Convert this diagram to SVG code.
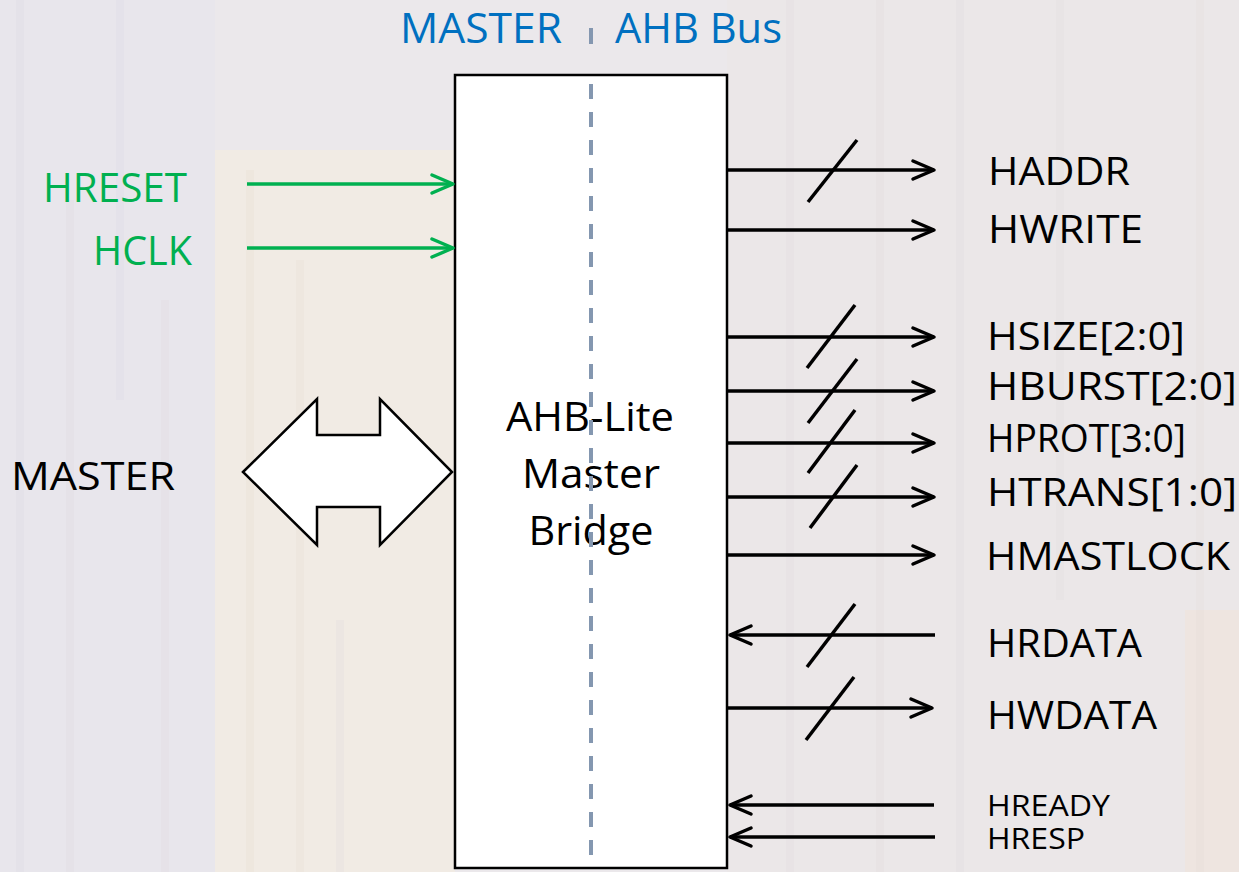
<svg xmlns="http://www.w3.org/2000/svg" width="1239" height="872" viewBox="0 0 1239 872">
  <style>
    .lbl { font-family: "Open Sans", "Liberation Sans", sans-serif; }
    .blue { fill: #0070C0; font-size: 42px; }
    .green { fill: #00B050; font-size: 40.5px; }
    .blk { fill: #000000; font-size: 39px; }
    .ctr { fill: #000000; font-size: 40.5px; text-anchor: middle; }
    .small { fill: #000000; font-size: 30px; }
    .wire { stroke: #000000; stroke-width: 3.5; fill: none; }
    .gwire { stroke: #00B050; stroke-width: 3.5; fill: none; }
    .slash { stroke: #000000; stroke-width: 3.5; stroke-linecap: butt; }
  </style>
  <defs>
    <marker id="arrBlack" markerUnits="userSpaceOnUse" markerWidth="30" markerHeight="24" viewBox="-24 -12 28 24" refX="0" refY="0" orient="auto">
      <path d="M -21 -9 L 0 0 L -21 9" fill="none" stroke="#000000" stroke-width="3.5" stroke-linecap="round" stroke-linejoin="round"/>
    </marker>
    <marker id="arrGreen" markerUnits="userSpaceOnUse" markerWidth="30" markerHeight="24" viewBox="-24 -12 28 24" refX="0" refY="0" orient="auto">
      <path d="M -21 -9 L 0 0 L -21 9" fill="none" stroke="#00B050" stroke-width="3.5" stroke-linecap="round" stroke-linejoin="round"/>
    </marker>
  </defs>

  <!-- faded background -->
  <g id="background">
    <rect x="0" y="0" width="1239" height="872" fill="#EBE8EB"/>
    <rect x="0" y="0" width="215" height="872" fill="#E8E6EC"/>
    <rect x="215" y="150" width="240" height="722" fill="#F1EBE4"/>
    <rect x="727" y="0" width="512" height="872" fill="#EBE7E8"/>
    <rect x="1185" y="610" width="54" height="262" fill="#EEE5E0"/>
    <g opacity="0.18" stroke-width="8">
      <line x1="20" y1="0" x2="20" y2="872" stroke="#D4D2E0"/>
      <line x1="70" y1="200" x2="70" y2="872" stroke="#DCD4DA"/>
      <line x1="120" y1="0" x2="120" y2="400" stroke="#D6D4E2"/>
      <line x1="165" y1="300" x2="165" y2="872" stroke="#DED4D8"/>
      <line x1="250" y1="170" x2="250" y2="872" stroke="#E6D8C6"/>
      <line x1="300" y1="260" x2="300" y2="872" stroke="#E2D6CC"/>
      <line x1="340" y1="620" x2="340" y2="872" stroke="#D8D4DE"/>
      <line x1="790" y1="0" x2="790" y2="872" stroke="#DCD4D8"/>
      <line x1="880" y1="0" x2="880" y2="872" stroke="#DED4D4"/>
      <line x1="960" y1="0" x2="960" y2="872" stroke="#DAD6DC"/>
      <line x1="1060" y1="0" x2="1060" y2="600" stroke="#DCD8DC"/>
      <line x1="1200" y1="0" x2="1200" y2="872" stroke="#E2D8D4"/>
    </g>
  </g>

  <!-- headings -->
  <g id="headings" class="lbl">
    <text class="blue" x="400" y="43" textLength="162" lengthAdjust="spacingAndGlyphs">MASTER</text>
    <text class="blue" x="615" y="43" textLength="167" lengthAdjust="spacingAndGlyphs">AHB Bus</text>
  </g>

  <!-- bridge block -->
  <g id="bridge">
    <rect x="455" y="75" width="272" height="793" fill="#FFFFFF" stroke="#000000" stroke-width="2.5"/>
    <text class="lbl ctr" x="590" y="431" textLength="168" lengthAdjust="spacingAndGlyphs">AHB-Lite</text>
    <text class="lbl ctr" x="591" y="488" textLength="138" lengthAdjust="spacingAndGlyphs">Master</text>
    <text class="lbl ctr" x="591" y="545" textLength="125" lengthAdjust="spacingAndGlyphs">Bridge</text>
  </g>

  <!-- master side -->
  <g id="master">
    <polygon points="243,472 317,399 317,435 380,435 380,399 452,472 380,545 380,507 317,507 317,545" fill="#FFFFFF" stroke="#000000" stroke-width="2.5" stroke-linejoin="miter"/>
    <text class="lbl blk" x="11" y="490" textLength="164" lengthAdjust="spacingAndGlyphs">MASTER</text>
  </g>

  <g id="hreset"><text class="lbl green" x="43" y="202" textLength="144" lengthAdjust="spacingAndGlyphs">HRESET</text></g>
  <g id="hclk"><text class="lbl green" x="93" y="265" textLength="99" lengthAdjust="spacingAndGlyphs">HCLK</text></g>

  <!-- signal labels -->
  <g id="haddr"><text class="lbl blk" x="988" y="185" textLength="142" lengthAdjust="spacingAndGlyphs">HADDR</text></g>
  <g id="hwrite"><text class="lbl blk" x="988" y="243" textLength="155" lengthAdjust="spacingAndGlyphs">HWRITE</text></g>
  <g id="hsize"><text class="lbl blk" x="987" y="350" textLength="198" lengthAdjust="spacingAndGlyphs">HSIZE[2:0]</text></g>
  <g id="hburst"><text class="lbl blk" x="987" y="400" textLength="250" lengthAdjust="spacingAndGlyphs">HBURST[2:0]</text></g>
  <g id="hprot"><text class="lbl blk" x="987" y="452" textLength="199" lengthAdjust="spacingAndGlyphs">HPROT[3:0]</text></g>
  <g id="htrans"><text class="lbl blk" x="987" y="506" textLength="250" lengthAdjust="spacingAndGlyphs">HTRANS[1:0]</text></g>
  <g id="hmastlock"><text class="lbl blk" x="986" y="570" textLength="244" lengthAdjust="spacingAndGlyphs">HMASTLOCK</text></g>
  <g id="hrdata"><text class="lbl blk" x="987" y="657" textLength="155" lengthAdjust="spacingAndGlyphs">HRDATA</text></g>
  <g id="hwdata"><text class="lbl blk" x="987" y="729" textLength="170" lengthAdjust="spacingAndGlyphs">HWDATA</text></g>
  <g id="hready"><text class="lbl small" x="987" y="816" textLength="123" lengthAdjust="spacingAndGlyphs">HREADY</text></g>
  <g id="hresp"><text class="lbl small" x="987" y="849" textLength="98" lengthAdjust="spacingAndGlyphs">HRESP</text></g>

  <!-- connectors -->
  <g id="connectors">
    <line class="gwire" x1="247" y1="184" x2="453" y2="184" marker-end="url(#arrGreen)"/>
    <line class="gwire" x1="247" y1="248" x2="453" y2="248" marker-end="url(#arrGreen)"/>

    <line class="wire" x1="728" y1="170" x2="934" y2="170" marker-end="url(#arrBlack)"/>
    <line class="wire" x1="728" y1="230" x2="934" y2="230" marker-end="url(#arrBlack)"/>
    <line class="wire" x1="728" y1="337" x2="934" y2="337" marker-end="url(#arrBlack)"/>
    <line class="wire" x1="728" y1="391" x2="934" y2="391" marker-end="url(#arrBlack)"/>
    <line class="wire" x1="728" y1="443" x2="934" y2="443" marker-end="url(#arrBlack)"/>
    <line class="wire" x1="728" y1="497" x2="934" y2="497" marker-end="url(#arrBlack)"/>
    <line class="wire" x1="728" y1="555" x2="934" y2="555" marker-end="url(#arrBlack)"/>
    <line class="wire" x1="935" y1="635" x2="730" y2="635" marker-end="url(#arrBlack)"/>
    <line class="wire" x1="728" y1="708" x2="932" y2="708" marker-end="url(#arrBlack)"/>
    <line class="wire" x1="934" y1="805" x2="730" y2="805" marker-end="url(#arrBlack)"/>
    <line class="wire" x1="935" y1="837" x2="730" y2="837" marker-end="url(#arrBlack)"/>

    <!-- bus slashes -->
    <line class="slash" x1="808" y1="202" x2="857" y2="140"/>
    <line class="slash" x1="807" y1="368" x2="855" y2="305"/>
    <line class="slash" x1="808" y1="423" x2="857" y2="359"/>
    <line class="slash" x1="808" y1="473" x2="855" y2="410"/>
    <line class="slash" x1="810" y1="528" x2="857" y2="465"/>
    <line class="slash" x1="807" y1="667" x2="855" y2="604"/>
    <line class="slash" x1="806" y1="740" x2="854" y2="677"/>
  </g>

  <!-- master / bus divider -->
  <g id="divider" stroke="#8497B0" stroke-width="4">
    <line x1="591" y1="28" x2="591" y2="44"/>
    <line x1="591" y1="84" x2="591" y2="868" stroke-dasharray="15 13"/>
  </g>
</svg>
